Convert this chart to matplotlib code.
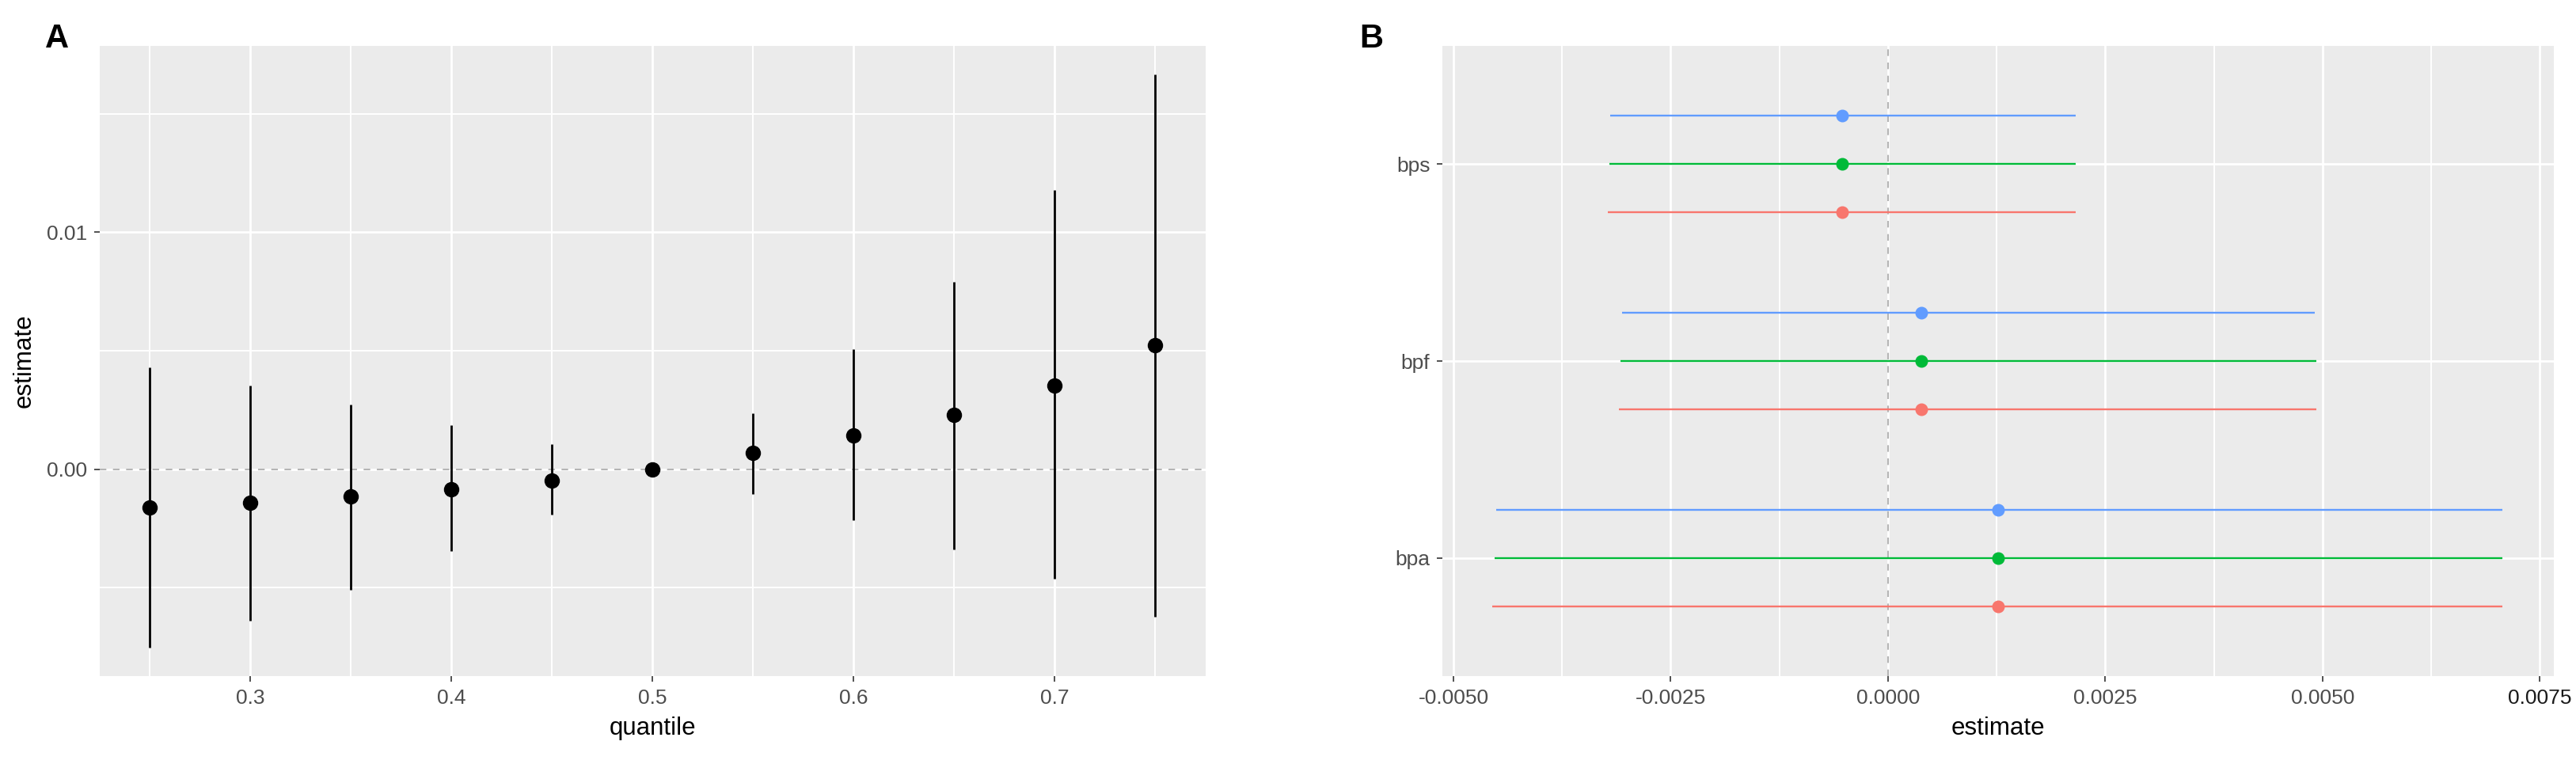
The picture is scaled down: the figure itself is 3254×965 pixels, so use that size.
import matplotlib
matplotlib.use("Agg")
import matplotlib.pyplot as plt
import numpy as np
from matplotlib.ticker import FixedLocator

plt.rcParams['font.family'] = ['Liberation Sans', 'DejaVu Sans']

# ---------------- Panel A data ----------------
quantile = [0.25, 0.30, 0.35, 0.40, 0.45, 0.50, 0.55, 0.60, 0.65, 0.70, 0.75]
est_A = [-0.00163, -0.00141, -0.00115, -0.00085, -0.00049, 0.0, 0.00069, 0.00142, 0.00228, 0.00353, 0.00522]
lo_A = [-0.00754, -0.00639, -0.00508, -0.00346, -0.00193, -0.00005, -0.00106, -0.00215, -0.00340, -0.00462, -0.00622]
hi_A = [0.00429, 0.00353, 0.00272, 0.00186, 0.00106, 0.00005, 0.00235, 0.00505, 0.00790, 0.01179, 0.01667]
xticks_A = [0.3, 0.4, 0.5, 0.6, 0.7]
xtick_labels_A = ["0.3", "0.4", "0.5", "0.6", "0.7"]
yticks_A = [0.0, 0.01]
ytick_labels_A = ["0.00", "0.01"]

# ---------------- Panel B data ----------------
terms = ["bpa", "bpf", "bps"]
groups = ["g1", "g2", "g3"]
group_colors = ["#F8766D", "#00BA38", "#619CFF"]
est_B = {
    "g1": [0.00127, 0.00038, -0.00053],
    "g2": [0.00127, 0.00038, -0.00053],
    "g3": [0.00127, 0.00038, -0.00053],
}
lo_B = {
    "g1": [-0.00455, -0.00310, -0.00322],
    "g2": [-0.00453, -0.00308, -0.00321],
    "g3": [-0.00451, -0.00306, -0.00320],
}
hi_B = {
    "g1": [0.00707, 0.00493, 0.00216],
    "g2": [0.00707, 0.00493, 0.00216],
    "g3": [0.00707, 0.00491, 0.00216],
}
xticks_B = [-0.005, -0.0025, 0.0, 0.0025, 0.005, 0.0075]
xtick_labels_B = ["-0.0050", "-0.0025", "0.0000", "0.0025", "0.0050", "0.0075"]

W, H = 3255, 965
DPI = 100
fig = plt.figure(figsize=(W / DPI, H / DPI), dpi=DPI)

PANEL_BG = "#EBEBEB"
TICK_COL = "#4D4D4D"
TICKSIZE = 19
TITLESIZE = 22.5


def style_axes(ax):
    ax.set_facecolor(PANEL_BG)
    for s in ax.spines.values():
        s.set_visible(False)
    ax.tick_params(axis='both', which='major', length=5, width=1.2, color="#333333",
                   labelsize=TICKSIZE, labelcolor=TICK_COL)
    ax.tick_params(axis='both', which='minor', length=0)
    ax.set_axisbelow(True)
    ax.grid(which='major', color='white', linewidth=2.0)
    ax.grid(which='minor', color='white', linewidth=1.4)


def px_axes(left, top, right, bottom):
    return fig.add_axes([left / W, 1 - bottom / H, (right - left) / W, (bottom - top) / H])


# ---------------- Panel A ----------------
axA = px_axes(125.7, 57.7, 1522.7, 854.3)
style_axes(axA)
axA.set_xlim(0.225, 0.775)
axA.set_ylim(-0.00875, 0.01788)
axA.xaxis.set_major_locator(FixedLocator(xticks_A))
axA.set_xticklabels(xtick_labels_A)
axA.xaxis.set_minor_locator(FixedLocator([0.25, 0.35, 0.45, 0.55, 0.65, 0.75]))
axA.yaxis.set_major_locator(FixedLocator(yticks_A))
axA.set_yticklabels(ytick_labels_A)
axA.yaxis.set_minor_locator(FixedLocator([-0.005, 0.005, 0.015]))
axA.tick_params(axis='x', which='major', pad=6)
axA.tick_params(axis='y', which='major', pad=6)
axA.axhline(0, color="#B5B5B5", linewidth=1.5, linestyle=(0, (4, 4)), zorder=2)
axA.vlines(quantile, lo_A, hi_A, color="black", linewidth=2.0, zorder=3)
axA.plot(quantile, est_A, 'o', color="black", markersize=13, zorder=4, linestyle='none')
axA.set_xlabel("quantile", fontsize=TITLESIZE, labelpad=8)
axA.set_ylabel("estimate", fontsize=TITLESIZE, labelpad=10)
fig.text(57 / W, 1 - 60 / H, "A", fontsize=30, fontweight='bold', ha='left', va='baseline')

# ---------------- Panel B ----------------
axB = px_axes(1821.7, 57.7, 3226, 854.3)
style_axes(axB)
axB.set_xlim(-0.00513, 0.00766)
axB.set_ylim(0.4, 3.6)
axB.xaxis.set_major_locator(FixedLocator(xticks_B))
axB.set_xticklabels(xtick_labels_B)
axB.xaxis.set_minor_locator(FixedLocator([-0.00375, -0.00125, 0.00125, 0.00375, 0.00625]))
ypos = np.arange(1, len(terms) + 1)
axB.yaxis.set_major_locator(FixedLocator(list(ypos)))
axB.set_yticklabels(terms)
axB.tick_params(axis='x', which='major', pad=6)
axB.tick_params(axis='y', which='major', pad=6)
axB.get_xticklabels()[-1].set_color("#1A1A1A")
axB.axvline(0, color="#B5B5B5", linewidth=1.5, linestyle=(0, (4, 4)), zorder=2)
offsets = [-0.245, 0.0, 0.245]
for g, col, off in zip(groups, group_colors, offsets):
    yy = ypos + off
    axB.hlines(yy, lo_B[g], hi_B[g], color=col, linewidth=1.7, zorder=3)
    axB.plot(est_B[g], yy, 'o', color=col, markersize=10.5, zorder=4, linestyle='none')
axB.set_xlabel("estimate", fontsize=TITLESIZE, labelpad=8)
fig.text(1717 / W, 1 - 60 / H, "B", fontsize=30, fontweight='bold', ha='left', va='baseline')

fig.savefig("out.png", dpi=DPI, facecolor="white")
